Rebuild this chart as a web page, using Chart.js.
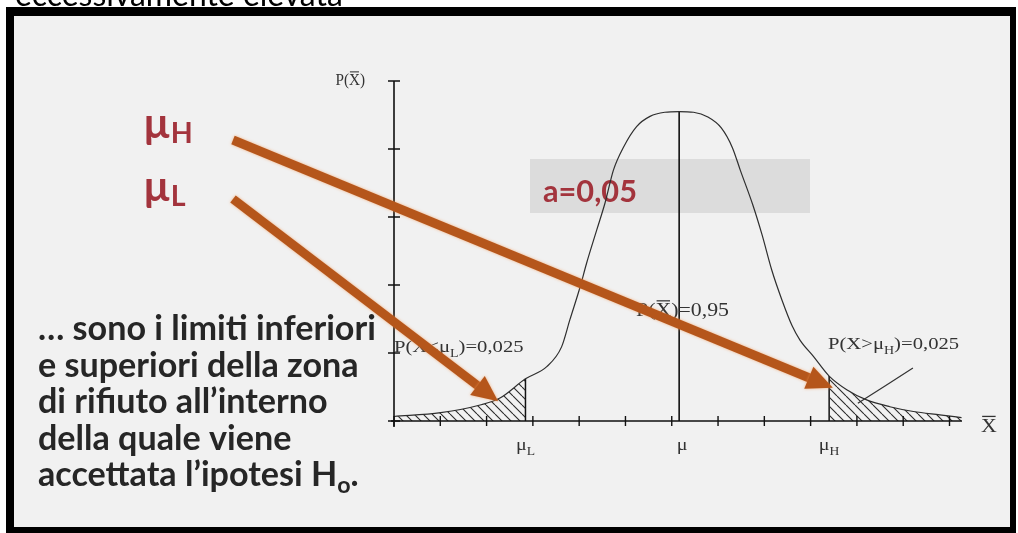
<!DOCTYPE html>
<html>
<head>
<meta charset="utf-8">
<script src="https://cdn.jsdelivr.net/npm/chart.js@4.4.1/dist/chart.umd.min.js"></script>
<style>
  html, body { margin: 0; padding: 0; background: #ffffff; }
  canvas { display: block; }
</style>
</head>
<body>
<canvas id="c" width="1018" height="533"></canvas>
<script>
// Sampling distribution of X̄ (x and y expressed in axis-tick units)
const curveX = [0, 1.01, 1.86, 2.29, 2.84, 3.30, 3.62, 3.80, 4.02, 4.16, 4.38, 4.56, 4.74, 4.96, 5.24, 5.53, 5.85, 6.16,
                6.47, 6.78, 7.07, 7.31, 7.48, 7.75, 7.95, 8.16, 8.38, 8.60, 8.77, 9.06, 9.40, 9.78, 10.21, 10.71, 11.22, 11.79, 12.26];
const curveY = [0.066, 0.122, 0.235, 0.338, 0.62, 0.80, 1.09, 1.49, 1.97, 2.32, 2.81, 3.21, 3.69, 4.03, 4.33, 4.48, 4.54, 4.55,
                4.54, 4.47, 4.31, 4.02, 3.69, 3.18, 2.74, 2.22, 1.78, 1.40, 1.19, 0.95, 0.66, 0.46, 0.31, 0.21, 0.14, 0.09, 0.05];

// Axis ticks
const xTicks = [0, 1, 2, 3, 4, 5, 6, 7, 8, 9, 10, 11, 12];
const yTicks = [0, 1, 2, 3, 4, 5];
const xMax = 12.27, yMax = 5;

// Critical values and mean
const muL = 2.84, mu = 6.16, muH = 9.40;

// Leader line for the upper-tail label
const pointerX = [11.21, 10.02];
const pointerY = [0.78, 0.26];

// Arrow tips pointing at the two rejection regions (upper, lower)
const arrowTipX = [9.48, 2.25];
const arrowTipY = [0.49, 0.29];

// Slide text
const heading = "eccessivamente elevata";
const bodyLines = ["… sono i limiti inferiori", "e superiori della zona", "di rifiuto all’interno", "della quale viene", "accettata l’ipotesi H"];
const alphaLabel = "a=0,05";

const pts = (xs, ys) => xs.map((x, i) => ({ x, y: ys[i] }));
const yAt = (x) => curveY[curveX.indexOf(x)];
const curvePts = pts(curveX, curveY);

// Diagonal hatching for the rejection regions
function hatchPattern() {
  const s = 9;
  const c = document.createElement('canvas');
  c.width = s; c.height = s;
  const g = c.getContext('2d');
  g.strokeStyle = '#2a2a2a';
  g.lineWidth = 1.1;
  g.beginPath();
  for (const o of [-s, 0, s]) { g.moveTo(o, 0); g.lineTo(o + s, s); }
  g.stroke();
  return g.createPattern(c, 'repeat');
}
const hatch = hatchPattern();

const lineStyle = { pointRadius: 0, fill: false, cubicInterpolationMode: 'monotone' };

const datasets = [
  { ...lineStyle, data: curvePts.filter(p => p.x <= muL), fill: 'origin', backgroundColor: hatch, borderWidth: 0 },
  { ...lineStyle, data: curvePts.filter(p => p.x >= muH), fill: 'origin', backgroundColor: hatch, borderWidth: 0 },
  { ...lineStyle, data: curvePts, borderColor: '#2e2e2e', borderWidth: 1.2 },
  { ...lineStyle, data: [{ x: muL, y: 0 }, { x: muL, y: yAt(muL) }], borderColor: '#111', borderWidth: 1.5 },
  { ...lineStyle, data: [{ x: mu, y: 0 }, { x: mu, y: yAt(mu) }], borderColor: '#111', borderWidth: 1.6 },
  { ...lineStyle, data: [{ x: muH, y: 0 }, { x: muH, y: yAt(muH) }], borderColor: '#111', borderWidth: 1.5 },
  { ...lineStyle, data: pts(pointerX, pointerY), borderColor: '#333', borderWidth: 1.2 }
];

// Text with optional subscript / overline segments
function rich(ctx, segs, x, y, opt) {
  const sx = opt.sx || 1;
  const fontFor = (s) => `${opt.weight || 'normal'} ${s}px ${opt.family}`;
  ctx.save();
  ctx.fillStyle = opt.color; ctx.strokeStyle = opt.color;
  ctx.textBaseline = 'alphabetic';
  const widths = segs.map(sg => { ctx.font = fontFor(sg.sub ? opt.size * 0.68 : opt.size); return ctx.measureText(sg.t).width; });
  const total = widths.reduce((a, b) => a + b, 0) * sx;
  const x0 = opt.align === 'center' ? x - total / 2 : opt.align === 'right' ? x - total : x;
  ctx.translate(x0, y); ctx.scale(sx, 1);
  let px = 0;
  segs.forEach((sg, i) => {
    ctx.font = fontFor(sg.sub ? opt.size * 0.68 : opt.size);
    ctx.fillText(sg.t, px, sg.sub ? opt.size * (opt.subDrop || 0.25) : 0);
    if (sg.over) {
      ctx.lineWidth = Math.max(1, opt.size / 15);
      ctx.beginPath();
      ctx.moveTo(px + 1, -opt.size * 0.82); ctx.lineTo(px + widths[i] - 1, -opt.size * 0.82);
      ctx.stroke();
    }
    px += widths[i];
  });
  ctx.restore();
  return total;
}

function fitSize(ctx, text, weight, family, base, target) {
  ctx.font = `${weight} ${base}px ${family}`;
  return base * target / ctx.measureText(text).width;
}

function arrow(ctx, x0, y0, x1, y1) {
  const a = Math.atan2(y1 - y0, x1 - x0);
  const L = 26, W = 12;
  const bx = x1 - L * Math.cos(a), by = y1 - L * Math.sin(a);
  ctx.save();
  ctx.shadowColor = 'rgba(245,150,80,0.7)';
  ctx.shadowBlur = 3;
  ctx.strokeStyle = '#b5561b';
  ctx.fillStyle = '#b5561b';
  ctx.lineWidth = 9;
  ctx.lineCap = 'butt';
  ctx.beginPath(); ctx.moveTo(x0, y0); ctx.lineTo(bx + 2 * Math.cos(a), by + 2 * Math.sin(a)); ctx.stroke();
  ctx.beginPath();
  ctx.moveTo(x1, y1);
  ctx.lineTo(bx + W * Math.sin(a), by - W * Math.cos(a));
  ctx.lineTo(bx - W * Math.sin(a), by + W * Math.cos(a));
  ctx.closePath(); ctx.fill();
  ctx.restore();
}

const SERIF = '"Liberation Serif", "Times New Roman", serif';
const SANS = 'Lato, "Open Sans", sans-serif';
const DARKRED = '#a3343d';

const slidePlugin = {
  id: 'slide',
  beforeDraw(chart) {
    const ctx = chart.ctx;
    ctx.save();
    ctx.fillStyle = '#ffffff'; ctx.fillRect(0, 0, 1018, 533);
    ctx.fillStyle = '#000000'; ctx.fillRect(6, 7, 1010, 526);
    ctx.fillStyle = '#f1f1f1'; ctx.fillRect(14, 16, 996, 511);
    // heading partly cut by the page edge
    const hs = fitSize(ctx, heading, 'normal', SANS, 30, 328);
    ctx.font = `normal ${hs}px ${SANS}`;
    ctx.fillStyle = '#000'; ctx.textBaseline = 'alphabetic';
    ctx.fillText(heading, 15, 6);
    // significance level box
    ctx.fillStyle = '#dcdcdc'; ctx.fillRect(530, 159, 280, 54);
    const as = fitSize(ctx, alphaLabel, 'bold', SANS, 30, 94);
    ctx.font = `bold ${as}px ${SANS}`;
    ctx.fillStyle = DARKRED;
    ctx.fillText(alphaLabel, 543, 202);
    ctx.restore();
  },
  afterDatasetsDraw(chart) {
    const ctx = chart.ctx;
    const xs = chart.scales.x, ys = chart.scales.y;
    const X = v => xs.getPixelForValue(v), Y = v => ys.getPixelForValue(v);
    ctx.save();
    ctx.strokeStyle = '#111'; ctx.lineWidth = 1.6;
    // axes
    ctx.beginPath();
    ctx.moveTo(X(0) - 3, Y(0)); ctx.lineTo(X(xMax), Y(0));
    ctx.moveTo(X(0), Y(yMax)); ctx.lineTo(X(0), Y(0) + 6);
    ctx.stroke();
    ctx.lineWidth = 1.4;
    ctx.beginPath();
    xTicks.forEach(t => { ctx.moveTo(X(t), Y(0) - 5); ctx.lineTo(X(t), Y(0) + 5); });
    yTicks.forEach(t => { ctx.moveTo(X(0) - 6, Y(t)); ctx.lineTo(X(0) + 6, Y(t)); });
    ctx.stroke();
    ctx.restore();

    const lab = { size: 18.5, family: SERIF, color: '#333', sx: 1.18, subDrop: 0.3 };
    rich(ctx, [{ t: 'P(' }, { t: 'X', over: true }, { t: ')' }], X(0) - 29, Y(yMax) + 4, { ...lab, size: 16, sx: 0.95, align: 'right' });
    rich(ctx, [{ t: 'P(' }, { t: 'X', over: true }, { t: ')=0,95' }], 636, 316, lab);
    rich(ctx, [{ t: 'P(X<μ' }, { t: 'L', sub: true }, { t: ')=0,025' }], 394, 352, { ...lab, size: 17.5 });
    rich(ctx, [{ t: 'P(X>μ' }, { t: 'H', sub: true }, { t: ')=0,025' }], 828, 349, { ...lab, size: 17.5 });
    rich(ctx, [{ t: 'μ' }, { t: 'L', sub: true }], X(muL), Y(0) + 29, { ...lab, size: 17, align: 'center' });
    rich(ctx, [{ t: 'μ' }], X(mu) + 3, Y(0) + 29, { ...lab, size: 17, align: 'center' });
    rich(ctx, [{ t: 'μ' }, { t: 'H', sub: true }], X(muH), Y(0) + 29, { ...lab, size: 17, align: 'center' });
    rich(ctx, [{ t: 'X', over: true }], X(xMax) + 19, Y(0) + 11, { ...lab, size: 19, sx: 1.15 });
  },
  afterDraw(chart) {
    const ctx = chart.ctx;
    const xs = chart.scales.x, ys = chart.scales.y;
    // body text
    const bs = fitSize(ctx, bodyLines[0], 'bold', SANS, 24, 338);
    const base = [340, 376.5, 413, 449.5, 485.5];
    bodyLines.forEach((t, i) => {
      const segs = i === bodyLines.length - 1 ? [{ t }, { t: 'o', sub: true }, { t: '.' }] : [{ t }];
      rich(ctx, segs, 38, base[i], { size: bs, family: SANS, weight: 'bold', color: '#262626', subDrop: 0.22 });
    });
    // critical value symbols
    rich(ctx, [{ t: 'µ' }, { t: 'H', sub: true }], 143, 138, { size: 42, family: SANS, weight: 'bold', color: DARKRED, subDrop: 0.12 });
    rich(ctx, [{ t: 'µ' }, { t: 'L', sub: true }], 143, 201, { size: 42, family: SANS, weight: 'bold', color: DARKRED, subDrop: 0.12 });
    // arrows from the symbols to the rejection regions
    arrow(ctx, 233, 140, xs.getPixelForValue(arrowTipX[0]), ys.getPixelForValue(arrowTipY[0]));
    arrow(ctx, 233, 199, xs.getPixelForValue(arrowTipX[1]), ys.getPixelForValue(arrowTipY[1]));
  }
};

new Chart(document.getElementById('c'), {
  type: 'line',
  data: { datasets },
  options: {
    responsive: false,
    animation: false,
    events: [],
    layout: { padding: { left: 394, top: 81, right: 1018 - 962, bottom: 533 - 421 } },
    scales: {
      x: { type: 'linear', min: 0, max: xMax, display: false },
      y: { type: 'linear', min: 0, max: yMax, display: false }
    },
    plugins: { legend: { display: false }, tooltip: { enabled: false } }
  },
  plugins: [slidePlugin]
});
</script>
</body>
</html>
